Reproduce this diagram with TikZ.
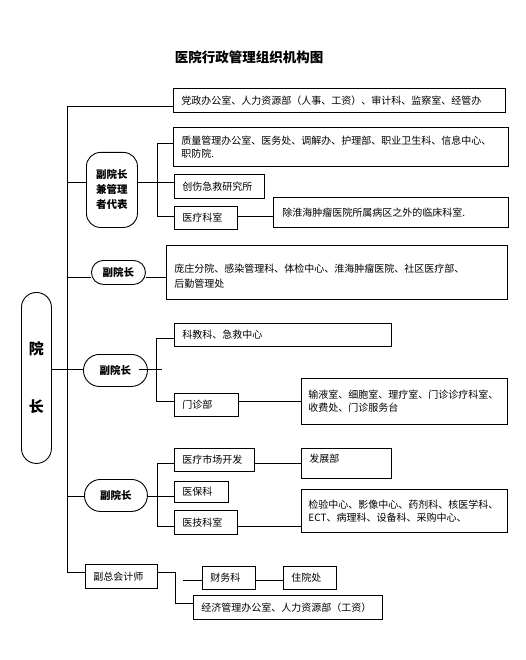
\documentclass[tikz,border=0pt]{standalone}
\usepackage{fontspec}
\setmainfont{Noto Sans CJK SC}
\XeTeXlinebreaklocale "zh"
\tikzset{
  bx/.style 2 args={draw, line width=0.9pt, anchor=north west, inner xsep=8pt, inner ysep=1pt,
    text width=#1, minimum height=#2, align=left, font=\fontsize{10}{13}\selectfont},
  vp/.style n args={3}{draw, line width=0.9pt, anchor=north west, inner sep=0pt, align=center,
    minimum width=#1, minimum height=#2, rounded corners=#3, font=\fontsize{10.5}{15}\selectfont\bfseries},
  ln/.style={line width=0.8pt}}
\begin{document}
\begin{tikzpicture}[x=1pt,y=-1pt]
\useasboundingbox (0,0) rectangle (525,660);
\node[font=\fontsize{13.5}{15}\selectfont\bfseries] (title) at (249,57) {医院行政管理组织机构图};

% president
\node[vp={30pt}{171pt}{15pt}, font=\fontsize{15}{18}\selectfont\bfseries] (yz) at (21,292) {院\\[40pt]长};

% level 1
\node[bx={316pt}{24pt}] (dz) at (173,88) {党政办公室、人力资源部（人事、工资）、审计科、监察室、经管办};
\node[vp={51pt}{75pt}{14pt}] (vp1) at (86,152) {副院长\\兼管理\\者代表};
\node[bx={319pt}{39pt}] (zl) at (173,127) {质量管理办公室、医务处、调解办、护理部、职业卫生科、信息中心、\\职防院.};
\node[bx={74pt}{24pt}] (cs) at (174,174) {创伤急救研究所};
\node[bx={47pt}{23pt}] (ylks) at (174,206) {医疗科室};
\node[bx={217pt}{30pt}, inner xsep=9pt] (chu) at (273,197) {除淮海肿瘤医院所属病区之外的临床科室.};

\node[vp={54pt}{24pt}{12pt}] (vp2) at (91,260) {副院长};
\node[bx={325pt}{54pt}] (pz) at (166,245) {\mbox{}\\[2pt]庞庄分院、感染管理科、体检中心、淮海肿瘤医院、社区医疗部、\\[2pt]后勤管理处};

\node[vp={64pt}{32pt}{16pt}] (vp3) at (83,354) {副院长};
\node[bx={201pt}{23pt}] (kjk) at (174,323) {科教科、急救中心};
\node[bx={48pt}{23pt}] (mzb) at (174,393) {门诊部};
\node[bx={192pt}{46pt}, inner xsep=7pt] (syz) at (301,378) {输液室、细胞室、理疗室、门诊诊疗科室、\\收费处、门诊服务台};

\node[vp={63pt}{32pt}{16pt}] (vp4) at (84,479) {副院长};
\node[bx={64pt}{23pt}] (sc) at (174,448) {医疗市场开发};
\node[bx={74pt}{30pt}] (fzb) at (301,448) {发展部\\[-3pt]\mbox{}};
\node[bx={38pt}{21pt}] (ybk) at (174,481) {医保科};
\node[bx={47pt}{24pt}] (yjks) at (174,510) {医技科室};
\node[bx={192pt}{43pt}, inner xsep=7pt] (jy) at (301,489) {检验中心、影像中心、药剂科、核医学科、\\ECT、病理科、设备科、采购中心、};

\node[bx={56pt}{24pt}] (fzk) at (85,564) {副总会计师};
\node[bx={37pt}{23pt}] (cwk) at (202,566) {财务科};
\node[bx={37pt}{23pt}] (zyc) at (283,566) {住院处};
\node[bx={173pt}{24pt}] (jj) at (193,595) {经济管理办公室、人力资源部（工资）};

% trunk
\coordinate (tTop) at (67,106);
\coordinate (tBot) at (67,572);
\draw[ln] (tTop) -- (tBot);
\draw[ln] (tTop) -- (dz.west |- tTop);
% VP1
\draw[ln] (67,182) -- (vp1.west |- 0,182);
\coordinate (b1) at (157,182);
\draw[ln] (vp1.east |- b1) -- (b1);
\draw[ln] (zl.west |- 0,143) -- (157,143) -- (157,216) -- (ylks.west |- 0,216);
\draw[ln] (b1) -- (cs.west |- b1);
\draw[ln] (ylks.east |- 0,216) -- (chu.west |- 0,216);
% VP2
\draw[ln] (67,277) -- (vp2.west |- 0,277);
\draw[ln] (vp2.east |- 0,277) -- (pz.west |- 0,277);
% president & VP3
\draw[ln] (yz.east |- 0,369) -- (vp3.west |- 0,369);
\coordinate (b3) at (162,369);
\draw[ln] ([xshift=-9pt]vp3.east |- b3) -- (b3);
\draw[ln] (kjk.west |- 0,338) -- (156,338) -- (156,401) -- (mzb.west |- 0,401);
\draw[ln] (mzb.east |- 0,401) -- (syz.west |- 0,401);
% VP4
\draw[ln] (67,496) -- (vp4.west |- 0,496);
\draw[ln] (vp4.east |- 0,496) -- (ybk.west |- 0,496);
\draw[ln] (sc.west |- 0,463) -- (157,463) -- (157,526) -- (yjks.west |- 0,526);
\draw[ln] (sc.east |- 0,463) -- (fzb.west |- 0,463);
\draw[ln] (yjks.east |- 0,526) -- (jy.west |- 0,526);
% accountant
\draw[ln] (tBot) -- (fzk.west |- tBot);
\draw[ln] (fzk.east |- 0,572) -- (175,572) -- (175,603) -- (jj.west |- 0,603);
\coordinate (fl) at (183,580);
\draw[ln] (fl) -- (cwk.west |- fl);
\draw[ln] (cwk.east |- fl) -- (zyc.west |- fl);
\end{tikzpicture}
\end{document}
